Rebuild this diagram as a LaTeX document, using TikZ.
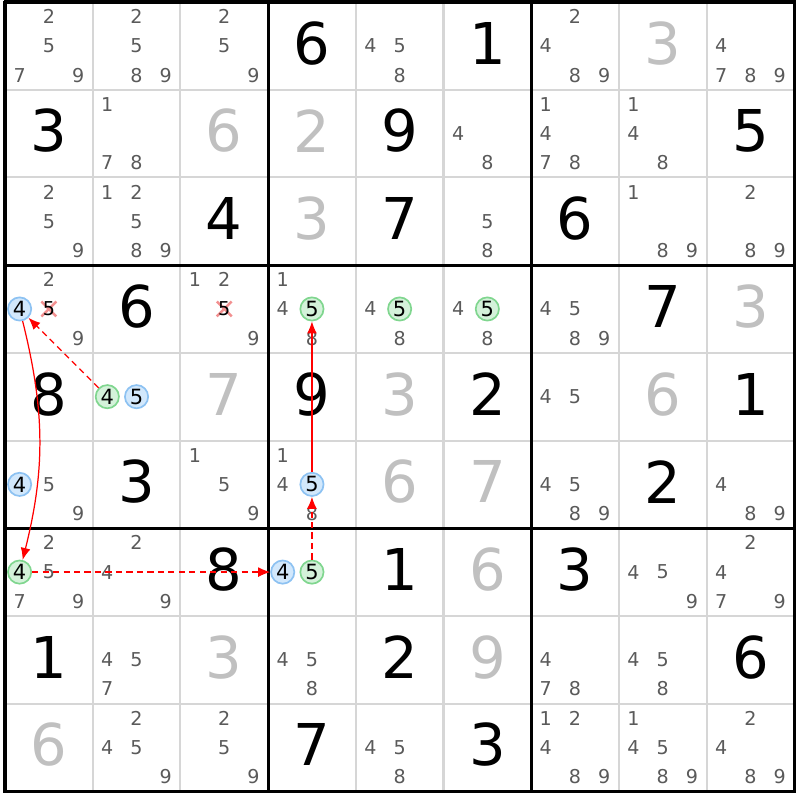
\documentclass[tikz,border=0pt]{standalone}
\usepackage{fontspec}
\setmainfont{DejaVu Sans}
\usepackage{tikz}
\usetikzlibrary{arrows.meta}
\definecolor{candgray}{HTML}{5A5A5A}
\definecolor{solvgray}{HTML}{C0C0C0}
\definecolor{thingray}{HTML}{D6D6D6}
\definecolor{ringblue}{HTML}{D2E8FC}
\definecolor{ringblueline}{HTML}{8DC2F2}
\definecolor{ringgreen}{HTML}{D4F2DA}
\definecolor{ringgreenline}{HTML}{80D68F}
\definecolor{crossred}{HTML}{F29090}

% position du candidat #3 dans la case (ligne #1, colonne #2)
\newcommand{\candxy}[3]{%
  \pgfmathsetmacro{\cx}{#2-1+(mod(#3-1,3)+0.5)/3}%
  \pgfmathsetmacro{\cy}{-(#1-1)-(floor((#3-1)/3)+0.5)/3}}
\newcommand{\cands}[3]{\foreach \d in {#3} {\candxy{#1}{#2}{\d}\node[cand] (c-#1-#2-\d) at (\cx,\cy) {\d};}}
\newcommand{\given}[3]{\node[given] (g-#1-#2) at (#2-0.5,-#1+0.5) {#3};}
\newcommand{\solved}[3]{\node[solved] (g-#1-#2) at (#2-0.5,-#1+0.5) {#3};}
\newcommand{\ring}[4]{\candxy{#2}{#3}{#4}\node[#1] (c-#2-#3-#4) at (\cx,\cy) {#4};}
\newcommand{\struck}[3]{\candxy{#1}{#2}{#3}%
  \draw[cross] (\cx-0.085,\cy-0.085) -- (\cx+0.085,\cy+0.085);
  \draw[cross] (\cx-0.085,\cy+0.085) -- (\cx+0.085,\cy-0.085);
  \node[cand,text=black] (c-#1-#2-#3) at (\cx,\cy) {#3};}

\begin{document}
\begin{tikzpicture}[
    cand/.style={inner sep=0pt, text=candgray, font=\fontsize{6.2}{7}\selectfont},
    given/.style={inner sep=0pt, yshift=0.03cm, text=black, font=\fontsize{18.7}{20}\selectfont},
    solved/.style={given, text=solvgray},
    blueR/.style={circle, inner sep=0pt, minimum size=0.265cm, fill=ringblue, draw=ringblueline, line width=0.55pt, text=black, font=\fontsize{6.8}{7}\selectfont},
    greenR/.style={blueR, fill=ringgreen, draw=ringgreenline},
    cross/.style={crossred, line width=0.8pt},
    strong/.style={red, line width=0.4pt, -{Latex[length=3.9pt,width=3.2pt]}},
    weak/.style={strong, dash pattern=on 2pt off 1.4pt}]
                \useasboundingbox (-0.057,0.023) rectangle (9.065,-9.099);

                % grille
                \foreach \i in {1,2,4,5,7,8} {
                    \draw[thingray, line width=0.65pt] (\i,0) -- (\i,-9);
                    \draw[thingray, line width=0.65pt] (0,-\i) -- (9,-\i);
                }
                \foreach \i in {0,3,6,9} {
                    \draw[black, line width=1pt] (\i,0.016) -- (\i,-9.016);
                    \draw[black, line width=1pt] (-0.016,-\i) -- (9.016,-\i);
                }

                % ligne 1
                \cands{1}{1}{2,5,7,9} \cands{1}{2}{2,5,8,9} \cands{1}{3}{2,5,9}
                \given{1}{4}{6} \cands{1}{5}{4,5,8} \given{1}{6}{1}
                \cands{1}{7}{2,4,8,9} \solved{1}{8}{3} \cands{1}{9}{4,7,8,9}

                % ligne 2
                \given{2}{1}{3} \cands{2}{2}{1,7,8} \solved{2}{3}{6}
                \solved{2}{4}{2} \given{2}{5}{9} \cands{2}{6}{4,8}
                \cands{2}{7}{1,4,7,8} \cands{2}{8}{1,4,8} \given{2}{9}{5}

                % ligne 3
                \cands{3}{1}{2,5,9} \cands{3}{2}{1,2,5,8,9} \given{3}{3}{4}
                \solved{3}{4}{3} \given{3}{5}{7} \cands{3}{6}{5,8}
                \given{3}{7}{6} \cands{3}{8}{1,8,9} \cands{3}{9}{2,8,9}

                % ligne 4
                \cands{4}{1}{2,9} \ring{blueR}{4}{1}{4} \struck{4}{1}{5}
                \given{4}{2}{6}
                \cands{4}{3}{1,2,9} \struck{4}{3}{5}
                \cands{4}{4}{1,4,8} \ring{greenR}{4}{4}{5}
                \cands{4}{5}{4,8} \ring{greenR}{4}{5}{5}
                \cands{4}{6}{4,8} \ring{greenR}{4}{6}{5}
                \cands{4}{7}{4,5,8,9} \given{4}{8}{7} \solved{4}{9}{3}

                % ligne 5
                \given{5}{1}{8} \ring{greenR}{5}{2}{4} \ring{blueR}{5}{2}{5}
                \solved{5}{3}{7} \given{5}{4}{9} \solved{5}{5}{3} \given{5}{6}{2}
                \cands{5}{7}{4,5} \solved{5}{8}{6} \given{5}{9}{1}

                % ligne 6
                \cands{6}{1}{5,9} \ring{blueR}{6}{1}{4}
                \given{6}{2}{3} \cands{6}{3}{1,5,9}
                \cands{6}{4}{1,4,8} \ring{blueR}{6}{4}{5}
                \solved{6}{5}{6} \solved{6}{6}{7}
                \cands{6}{7}{4,5,8,9} \given{6}{8}{2} \cands{6}{9}{4,8,9}

                % ligne 7
                \cands{7}{1}{2,5,7,9} \ring{greenR}{7}{1}{4}
                \cands{7}{2}{2,4,9} \given{7}{3}{8}
                \ring{blueR}{7}{4}{4} \ring{greenR}{7}{4}{5}
                \given{7}{5}{1} \solved{7}{6}{6}
                \given{7}{7}{3} \cands{7}{8}{4,5,9} \cands{7}{9}{2,4,7,9}

                % ligne 8
                \given{8}{1}{1} \cands{8}{2}{4,5,7} \solved{8}{3}{3}
                \cands{8}{4}{4,5,8} \given{8}{5}{2} \solved{8}{6}{9}
                \cands{8}{7}{4,7,8} \cands{8}{8}{4,5,8} \given{8}{9}{6}

                % ligne 9
                \solved{9}{1}{6} \cands{9}{2}{2,4,5,9} \cands{9}{3}{2,5,9}
                \given{9}{4}{7} \cands{9}{5}{4,5,8} \given{9}{6}{3}
                \cands{9}{7}{1,2,4,8,9} \cands{9}{8}{1,4,5,8,9} \cands{9}{9}{2,4,8,9}

                % chaine
                \draw[weak] (c-5-2-4) -- (c-4-1-4);
                \draw[strong] (c-4-1-4) to[bend left=14] (c-7-1-4);
                \draw[weak] (c-7-1-4) -- (c-7-4-4);
                \draw[weak] (c-7-4-5) -- (c-6-4-5);
                \draw[strong] (c-6-4-5) -- (c-4-4-5);
            \end{tikzpicture}
\end{document}
